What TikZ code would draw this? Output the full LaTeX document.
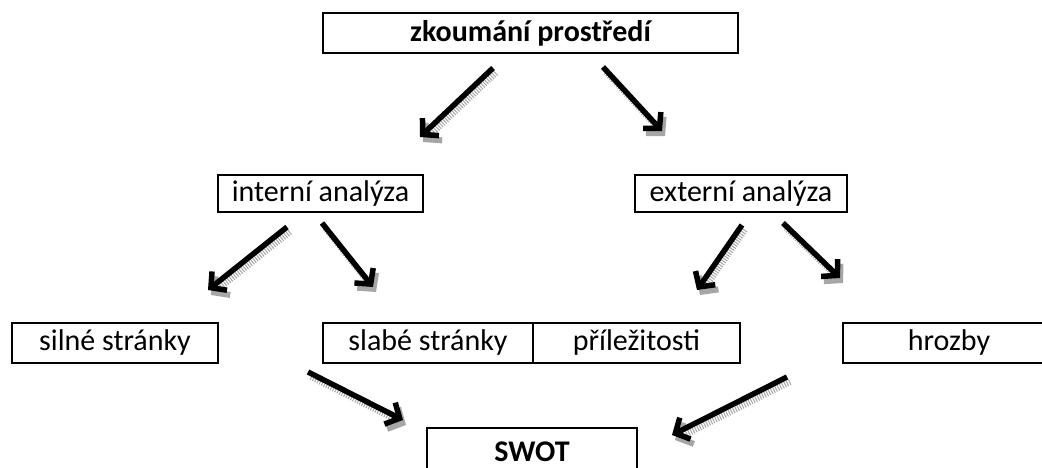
\documentclass[tikz,border=0pt]{standalone}
\usepackage{fontspec}
\setmainfont{Carlito}
\usetikzlibrary{arrows.meta}
\begin{document}
\begin{tikzpicture}[x=1pt,y=-1pt,
  box/.style={draw, line width=1.9pt, inner sep=0pt, anchor=center, font=\fontsize{30}{36}\selectfont},
  boldbox/.style={box, line width=2.6pt, font=\fontsize{30}{36}\selectfont\bfseries},
  arr/.style={line width=5.5pt, -{Straight Barb[length=11pt,width=24pt]}},
  shd/.style={line width=6pt, black!35, dash pattern=on 1pt off 1.5pt, -{Straight Barb[length=11pt,width=24pt]}, transform canvas={shift={(3pt,-5pt)}}}]
\useasboundingbox (0,0) rectangle (1042,468);
\node[boldbox, minimum width=415pt, minimum height=40pt] (top) at (530.5,33) {zkoumání prostředí};
\node[box, minimum width=205pt, minimum height=37pt] (int) at (320.5,193.5) {interní analýza};
\node[box, minimum width=212pt, minimum height=37pt] (ext) at (741,193.5) {externí analýza};
\node[box, minimum width=206pt, minimum height=40pt] (sil) at (115,343) {silné stránky};
\node[box, minimum width=210pt, minimum height=40pt] (sla) at (428,343) {slabé stránky};
\node[box, minimum width=207pt, minimum height=40pt] (pri) at (636.5,343) {příležitosti};
\node[box, minimum width=212pt, minimum height=40pt] (hro) at (949,343) {hrozby};
\node[boldbox, minimum width=210pt, minimum height=48pt] (swot) at (532,452) {SWOT};
% arrow end points
\coordinate (a1s) at (493,68);  \coordinate (a1e) at (420,137);
\coordinate (a2s) at (603,67);  \coordinate (a2e) at (662,131);
\coordinate (a3s) at (287,227); \coordinate (a3e) at (208,290);
\coordinate (a4s) at (322,223); \coordinate (a4e) at (373,287);
\coordinate (a5s) at (742,225); \coordinate (a5e) at (697,290);
\coordinate (a6s) at (783,223); \coordinate (a6e) at (840,278);
\coordinate (a7s) at (308,372); \coordinate (a7e) at (403,420);
\coordinate (a8s) at (787,377); \coordinate (a8e) at (672,435);
\foreach \i in {1,...,8} {
  \draw[shd] (a\i s) -- (a\i e);
  \draw[arr] (a\i s) -- (a\i e);
}
\end{tikzpicture}
\end{document}
